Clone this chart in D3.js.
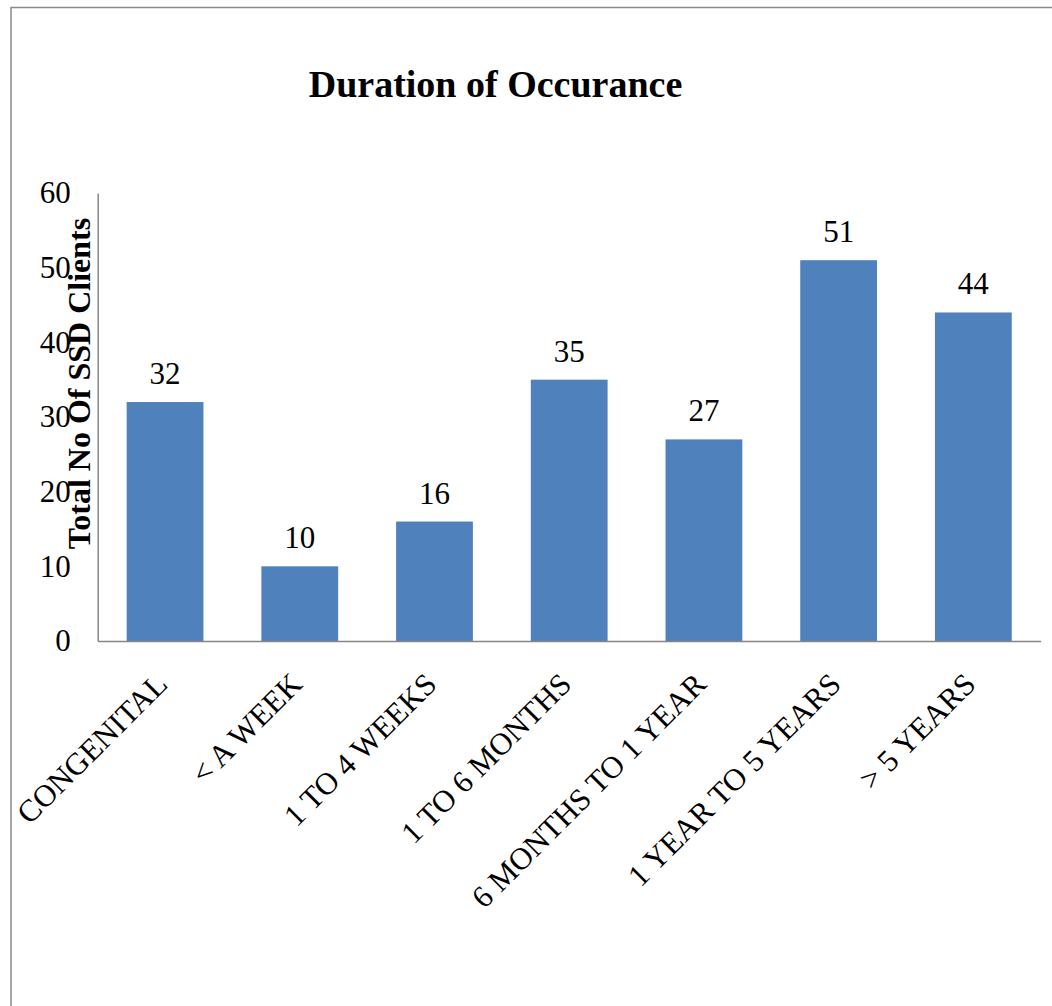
<!DOCTYPE html>
<html>
<head>
<meta charset="utf-8">
<script src="https://cdn.jsdelivr.net/npm/d3@7"></script>
<style>
  body { margin: 0; background: #fff; }
  text { font-family: "Liberation Serif", "Times New Roman", serif; fill: #000; }
</style>
</head>
<body>
<script>
const categories = ["CONGENITAL", "< A WEEK", "1 TO 4 WEEKS", "1 TO 6 MONTHS",
  "6 MONTHS TO 1 YEAR", "1 YEAR TO 5 YEARS", "> 5 YEARS"];
const values = [32, 10, 16, 35, 27, 51, 44];
const yTicks = [0, 10, 20, 30, 40, 50, 60];
const title = "Duration of Occurance";
const yTitle = "Total No Of SSD Clients";

const w = 1052;
const h = 1006;
const plot = { left: 97.7, right: 1040.7, top: 193, bottom: 641 };

const svg = d3.select("body")
  .append("svg")
  .attr("width", w)
  .attr("height", h);

// chart frame (runs off the right and bottom edges)
svg.append("rect")
  .attr("x", 11)
  .attr("y", 7.5)
  .attr("width", w + 20)
  .attr("height", h + 20)
  .attr("fill", "none")
  .attr("stroke", "#8a8a8a")
  .attr("stroke-width", 1.5);

const x = d3.scaleBand()
  .domain(categories)
  .range([plot.left, plot.right])
  .paddingInner(0.43)
  .paddingOuter(0.215);

const y = d3.scaleLinear()
  .domain([0, 60])
  .range([plot.bottom, plot.top]);

svg.append("text")
  .text(title)
  .attr("x", 495.5)
  .attr("y", 96.5)
  .attr("text-anchor", "middle")
  .style("font-size", "38px")
  .style("font-weight", "bold");

// bars
svg.selectAll("rect.bar")
  .data(values)
  .enter()
  .append("rect")
  .attr("class", "bar")
  .attr("x", (d, i) => x(categories[i]))
  .attr("y", d => y(d))
  .attr("width", x.bandwidth())
  .attr("height", d => y(0) - y(d))
  .attr("fill", "#4F81BD");

// value labels
svg.selectAll("text.val")
  .data(values)
  .enter()
  .append("text")
  .attr("class", "val")
  .text(d => d)
  .attr("x", (d, i) => x(categories[i]) + x.bandwidth() / 2)
  .attr("y", d => y(d) - 18)
  .attr("text-anchor", "middle")
  .style("font-size", "31px");

// y axis
const yAxis = d3.axisLeft(y).tickValues(yTicks).tickSize(0).tickPadding(27);
svg.append("g")
  .attr("transform", "translate(" + plot.left + ",0)")
  .call(yAxis)
  .call(g => g.select(".domain").attr("stroke", "#868686").attr("stroke-width", 1.5))
  .call(g => g.selectAll("text")
    .style("font-family", "'Liberation Serif', 'Times New Roman', serif")
    .style("font-size", "31px")
    .attr("fill", "#000"));

// x axis
const xAxis = d3.axisBottom(x).tickSize(0).tickFormat("");
svg.append("g")
  .attr("transform", "translate(0," + plot.bottom + ")")
  .call(xAxis)
  .call(g => g.select(".domain").attr("stroke", "#868686").attr("stroke-width", 1.5));

// rotated category labels
svg.selectAll("text.cat")
  .data(categories)
  .enter()
  .append("text")
  .attr("class", "cat")
  .text(d => d)
  .attr("text-anchor", "end")
  .attr("transform", d => "translate(" + (x(d) + x.bandwidth() / 2 + 4) + "," + (plot.bottom + 45) + ") rotate(-45)")
  .style("font-size", "31px");

// y axis title drawn over the tick labels like the original
svg.append("text")
  .text(yTitle)
  .attr("transform", "translate(90,383.5) rotate(-90)")
  .attr("text-anchor", "middle")
  .style("font-size", "32px")
  .style("font-weight", "bold");
</script>
</body>
</html>
